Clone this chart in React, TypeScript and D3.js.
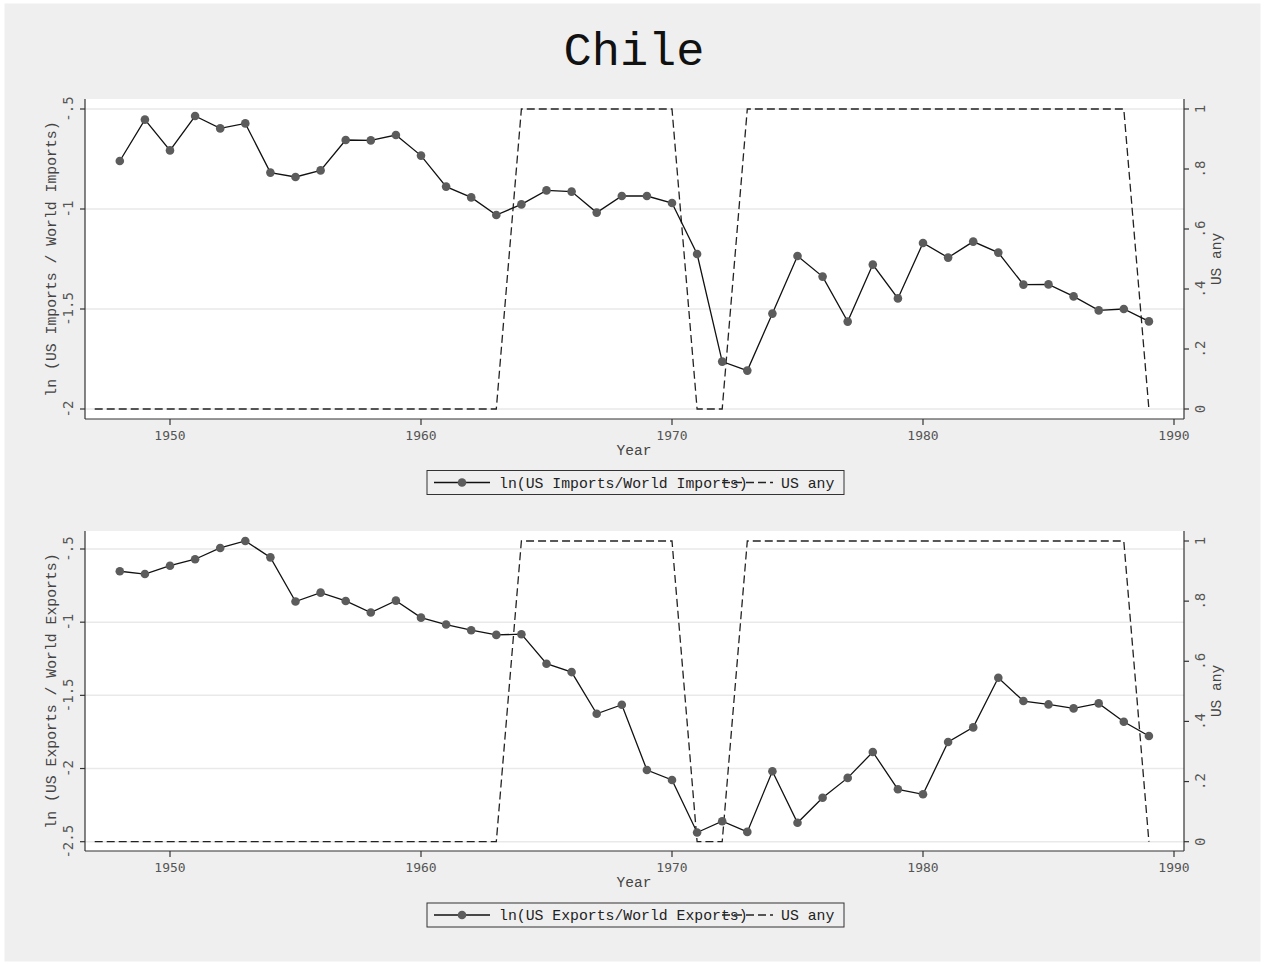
import React from "react";
import * as d3 from "d3";

const years = [1948,1949,1950,1951,1952,1953,1954,1955,1956,1957,1958,1959,1960,1961,1962,1963,1964,1965,1966,1967,1968,1969,1970,1971,1972,1973,1974,1975,1976,1977,1978,1979,1980,1981,1982,1983,1984,1985,1986,1987,1988,1989];
const lnImports = [-0.76,-0.553,-0.707,-0.535,-0.597,-0.572,-0.818,-0.84,-0.807,-0.655,-0.657,-0.63,-0.733,-0.888,-0.942,-1.03,-0.977,-0.907,-0.913,-1.018,-0.935,-0.935,-0.97,-1.225,-1.763,-1.808,-1.523,-1.235,-1.338,-1.563,-1.278,-1.447,-1.17,-1.243,-1.163,-1.218,-1.378,-1.377,-1.437,-1.507,-1.5,-1.562];
const lnExports = [-0.652,-0.671,-0.614,-0.57,-0.493,-0.445,-0.557,-0.859,-0.798,-0.855,-0.934,-0.853,-0.969,-1.016,-1.055,-1.087,-1.082,-1.284,-1.341,-1.626,-1.564,-2.01,-2.078,-2.437,-2.36,-2.433,-2.019,-2.371,-2.2,-2.064,-1.887,-2.142,-2.176,-1.819,-1.719,-1.38,-1.539,-1.562,-1.589,-1.555,-1.68,-1.778];
const usAnyYears = [1947,1948,1949,1950,1951,1952,1953,1954,1955,1956,1957,1958,1959,1960,1961,1962,1963,1964,1965,1966,1967,1968,1969,1970,1971,1972,1973,1974,1975,1976,1977,1978,1979,1980,1981,1982,1983,1984,1985,1986,1987,1988,1989];
const usAny = [0,0,0,0,0,0,0,0,0,0,0,0,0,0,0,0,0,1,1,1,1,1,1,1,0,0,1,1,1,1,1,1,1,1,1,1,1,1,1,1,1,1,0];

const xTicks = [1950,1960,1970,1980,1990];
const rightTicks = [0,0.2,0.4,0.6,0.8,1];
const rightTickLabels = ["0",".2",".4",".6",".8","1"];
const importTicks = [-2,-1.5,-1,-0.5];
const importTickLabels = ["-2","-1.5","-1","-.5"];
const exportTicks = [-2.5,-2,-1.5,-1,-0.5];
const exportTickLabels = ["-2.5","-2","-1.5","-1","-.5"];

const MONO = "'Liberation Mono', 'Courier New', monospace";
const TICKF = "'DejaVu Sans Mono', monospace";

type PanelProps = {
  top: number; bottom: number;
  leftDomain: [number, number]; leftRange: [number, number];
  rightRange: [number, number];
  values: number[]; ticks: number[]; tickLabels: string[];
  yTitle: string; legendLabel: string; legendY: number;
};

function Panel(p: PanelProps) {
  const left = 85, right = 1184;
  const x = d3.scaleLinear().domain([1950, 1990]).range([170, 1174]);
  const yL = d3.scaleLinear().domain(p.leftDomain).range(p.leftRange);
  const yR = d3.scaleLinear().domain([0, 1]).range(p.rightRange);
  const pts = years.map((yr, i) => [yr, p.values[i]] as [number, number]);
  const solid = d3.line<[number, number]>().x(d => x(d[0])).y(d => yL(d[1]))(pts) || "";
  const dashPts = usAnyYears.map((yr, i) => [yr, usAny[i]] as [number, number]);
  const dashed = d3.line<[number, number]>().x(d => x(d[0])).y(d => yR(d[1]))(dashPts) || "";
  const midY = (p.top + p.bottom) / 2;
  const lx0 = 427, lw = 417, lh = 24;
  return (
    <g>
      <rect x={left} y={p.top} width={right - left} height={p.bottom - p.top} fill="#ffffff" />
      {p.ticks.map((t, i) => (
        <line key={"g" + i} x1={left} x2={right} y1={yL(t)} y2={yL(t)} stroke="#e9e9e9" strokeWidth={1.5} />
      ))}
      <path d={dashed} fill="none" stroke="#222" strokeWidth={1.3} strokeDasharray="8,4" />
      <path d={solid} fill="none" stroke="#111" strokeWidth={1.3} />
      {pts.map((d, i) => (
        <circle key={"c" + i} cx={x(d[0])} cy={yL(d[1])} r={4.3} fill="#5c5c5c" />
      ))}
      {/* axes */}
      <line x1={left} x2={left} y1={p.top} y2={p.bottom} stroke="#333" strokeWidth={1.2} />
      <line x1={right} x2={right} y1={p.top} y2={p.bottom} stroke="#333" strokeWidth={1.2} />
      <line x1={left} x2={right} y1={p.bottom} y2={p.bottom} stroke="#333" strokeWidth={1.2} />
      {p.ticks.map((t, i) => (
        <g key={"lt" + i}>
          <line x1={left - 5} x2={left} y1={yL(t)} y2={yL(t)} stroke="#333" strokeWidth={1.2} />
          <text transform={`translate(73,${yL(t)}) rotate(-90)`} textAnchor="middle" fontFamily={TICKF} fontSize={14} fill="#555">{p.tickLabels[i]}</text>
        </g>
      ))}
      {rightTicks.map((t, i) => (
        <g key={"rt" + i}>
          <line x1={right} x2={right + 5} y1={yR(t)} y2={yR(t)} stroke="#333" strokeWidth={1.2} />
          <text transform={`translate(1205,${yR(t)}) rotate(-90)`} textAnchor="middle" fontFamily={TICKF} fontSize={14} fill="#555">{rightTickLabels[i]}</text>
        </g>
      ))}
      {xTicks.map((t, i) => (
        <g key={"xt" + i}>
          <line x1={x(t)} x2={x(t)} y1={p.bottom} y2={p.bottom + 6} stroke="#333" strokeWidth={1.2} />
          <text x={x(t)} y={p.bottom + 21} textAnchor="middle" fontFamily={TICKF} fontSize={13} fill="#555">{t}</text>
        </g>
      ))}
      <text x={634} y={p.bottom + 36} textAnchor="middle" fontFamily={MONO} fontSize={14.5} fill="#444">Year</text>
      <text transform={`translate(56,${midY}) rotate(-90)`} textAnchor="middle" fontFamily={MONO} fontSize={14.8} fill="#444">{p.yTitle}</text>
      <text transform={`translate(1221,${midY}) rotate(-90)`} textAnchor="middle" fontFamily={MONO} fontSize={14.5} fill="#444">US any</text>
      {/* legend */}
      <rect x={lx0} y={p.legendY - lh / 2} width={lw} height={lh} fill="none" stroke="#333" strokeWidth={1} />
      <line x1={434} x2={490} y1={p.legendY} y2={p.legendY} stroke="#111" strokeWidth={1.3} />
      <circle cx={462} cy={p.legendY} r={4.3} fill="#5c5c5c" />
      <text x={499} y={p.legendY + 5} fontFamily={MONO} fontSize={14.8} fill="#222">{p.legendLabel}</text>
      <line x1={722} x2={773} y1={p.legendY} y2={p.legendY} stroke="#222" strokeWidth={1.3} strokeDasharray="8,4" />
      <text x={781} y={p.legendY + 5} fontFamily={MONO} fontSize={14.8} fill="#222">US any</text>
    </g>
  );
}

export default function App() {
  return (
    <svg width={1265} height={965} style={{ position: "absolute", left: 0, top: 0 }}>
      <rect x={0} y={0} width={1265} height={965} fill="#ffffff" />
      <rect x={4.5} y={3.5} width={1256} height={958} fill="#efefef" />
      <text x={634} y={65} textAnchor="middle" fontFamily={MONO} fontSize={47} fill="#111">Chile</text>
      <Panel top={99} bottom={419} leftDomain={[-2, -0.5]} leftRange={[409, 109]} rightRange={[409, 109]}
        values={lnImports} ticks={importTicks} tickLabels={importTickLabels}
        yTitle="ln (US Imports / World Imports)" legendLabel="ln(US Imports/World Imports)" legendY={482.5} />
      <Panel top={531} bottom={851} leftDomain={[-2.5, -0.5]} leftRange={[841.7, 549]} rightRange={[841.7, 541]}
        values={lnExports} ticks={exportTicks} tickLabels={exportTickLabels}
        yTitle="ln (US Exports / World Exports)" legendLabel="ln(US Exports/World Exports)" legendY={915} />
    </svg>
  );
}
